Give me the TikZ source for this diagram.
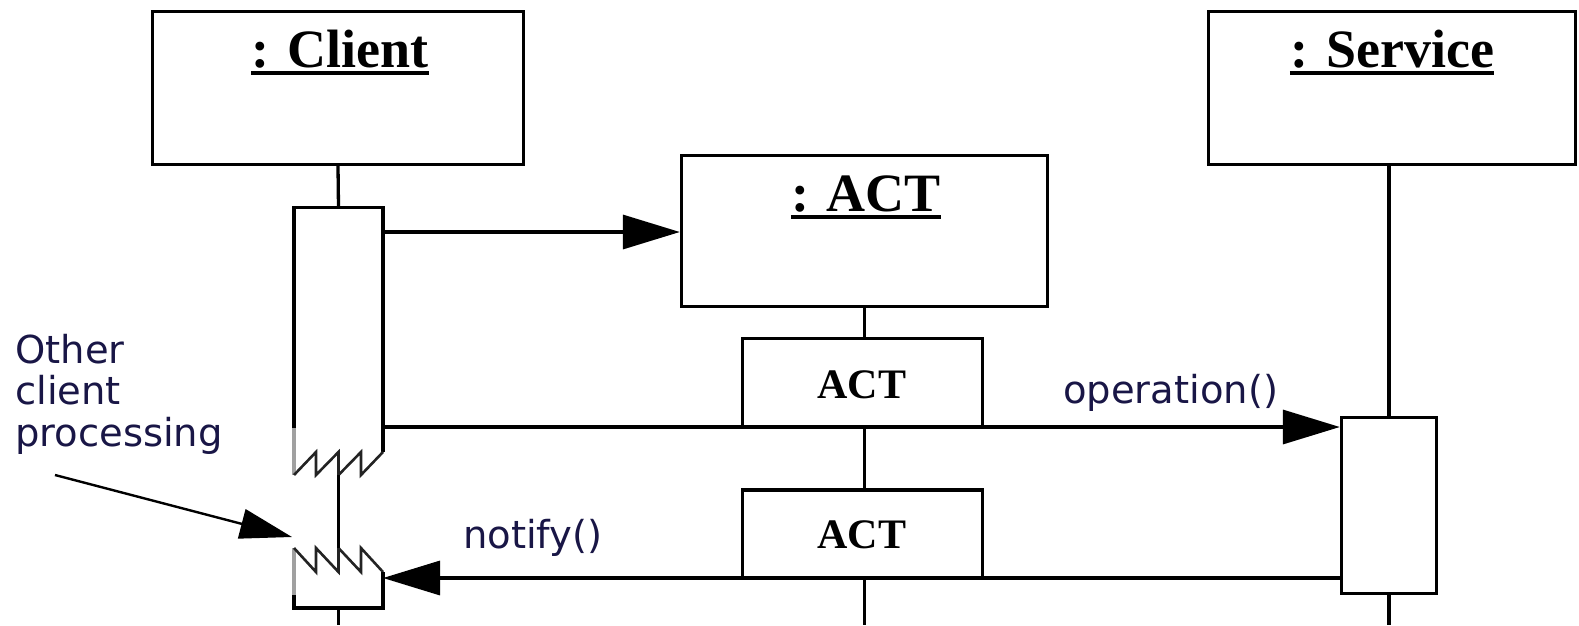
\documentclass[tikz,border=0pt]{standalone}
\usepackage{fontspec}
\setmainfont{Liberation Serif}
\newfontfamily\labelfont{DejaVu Sans}
\usetikzlibrary{arrows.meta,calc}
\definecolor{ink}{RGB}{25,22,70}
\definecolor{hatch}{RGB}{160,160,160}
\definecolor{zig}{RGB}{35,35,35}

\begin{document}
\begin{tikzpicture}[x=1pt,y=-1pt,
  objbox/.style={draw, line width=3.3pt, inner sep=0pt, minimum width=#1},
  title/.style={anchor=base, inner sep=0pt, font=\bfseries\fontsize{54}{60}\selectfont},
  acttext/.style={anchor=base, inner sep=0pt, font=\bfseries\fontsize{42}{48}\selectfont},
  msgtext/.style={anchor=base west, inner sep=0pt, text=ink, font=\labelfont\fontsize{38.5}{41.5}\selectfont},
  lifeline/.style={line width=3.3pt},
  msg/.style={line width=3.3pt, -{Triangle[length=57pt,width=34pt]}},
  pointer/.style={line width=2.4pt, -{Triangle[length=52pt,width=30pt]}},
  ulinestyle/.style={line width=4pt},
]
\useasboundingbox (0,0) rectangle (1579,625);

% object boxes
\node[objbox=371, minimum height=153] (client)  at (338,88) {};
\node[objbox=367, minimum height=153] (service) at (1392,88) {};
\node[objbox=366, minimum height=151] (act)     at (864.5,231) {};

% titles, underlined
\node[title] (tclient)  at (340,67)  {: Client};
\node[title] (tservice) at (1392,67) {: Service};
\node[title] (tact)     at (866,211) {: ACT};
\foreach \t in {tclient,tservice,tact}
  \draw[ulinestyle] ([yshift=-6pt]\t.base west) -- ([yshift=-6pt]\t.base east);

% ACT activation boxes
\node[objbox=240, minimum height=88, fill=white] (act1) at (862.5,382.5) {};
\node[objbox=240, minimum height=88, fill=white] (act2) at (862.5,534) {};
\node[acttext] at (862,398) {ACT};
\node[acttext] at (862,548) {ACT};

% service activation bar
\node[objbox=95, minimum height=176] (svcbar) at (1389,505.5) {};

% client activation bar with the two interruptions
\coordinate (cbartop) at (338.5,207.5);
\coordinate (cbarbot) at (338.5,608);
\coordinate (czigup)  at (338.5,475);
\coordinate (czigdn)  at (338.5,548);
\draw[line width=3.3pt] (294,428) -- (294,207.5) -- (383,207.5) -- (383,452);
\draw[line width=3.6pt, hatch] (294,428) -- (294,475);
\draw[line width=2.6pt, zig, line join=miter]
  (294,475) -- (316,452) -- (316,475) -- (338.5,452) -- (338.5,475)
  -- (361,452) -- (361,475) -- (383,452);
\draw[line width=3.6pt, hatch] (294,548) -- (294,595);
\draw[line width=2.6pt, zig, line join=miter]
  (294,548) -- (316,572) -- (316,548) -- (338.5,572) -- (338.5,548)
  -- (361,572) -- (361,548) -- (383,572);
\draw[line width=3.3pt] (294,595) -- (294,608) -- (383,608) -- (383,572);

% lifelines
\draw[lifeline] (client.south) -- (cbartop);
\draw[lifeline] (czigup) -- (czigdn);
\draw[lifeline] (cbarbot) -- (338.5,625);
\draw[lifeline] (act.south) -- (act.south |- act1.north);
\draw[lifeline] (act.south |- act1.south) -- (act.south |- act2.north);
\draw[lifeline] (act.south |- act2.south) -- (864.5,625);
\draw[lifeline] (svcbar.north |- service.south) -- (svcbar.north);
\draw[lifeline] (svcbar.south) -- (1389,625);

% messages
\coordinate (create) at (383,232);
\draw[msg] (create) -- (create -| act.west);
\coordinate (opstart) at (383,427);
\draw[msg] (opstart) -- (opstart -| svcbar.west);
\coordinate (ntfend) at (383,578);
\draw[msg] (ntfend -| svcbar.west) -- (ntfend);
\node[msgtext] (lop)  at (1063,403) {operation()};
\node[msgtext] (lntf) at (463,548)  {notify()};

% note on the interrupted client (base anchor sits on the last line)
\node[msgtext, align=left] (note) at (15,446) {Other\\client\\processing};
\coordinate (notestart) at (55,475);
\coordinate (cproc) at (292,537);
\draw[pointer] (notestart) -- (cproc);
\end{tikzpicture}
\end{document}
